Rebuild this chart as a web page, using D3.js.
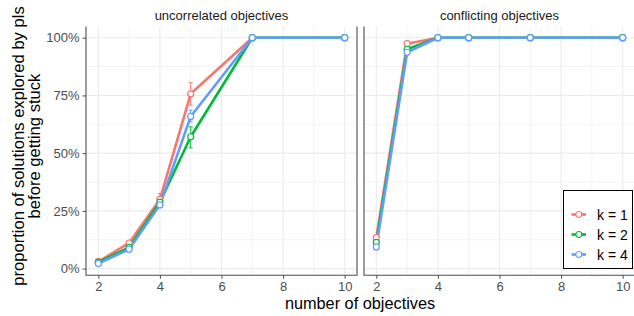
<!DOCTYPE html>
<html>
<head>
<meta charset="utf-8">
<script src="https://cdn.jsdelivr.net/npm/d3@7"></script>
<style>
  body { margin: 0; background: #fff; }
  svg { font-family: "Liberation Sans", Arial, sans-serif; display: block; }
</style>
</head>
<body>
<div id="chart"></div>
<script>
// data
var objectives = [2, 3, 4, 5, 7, 10]
var panels = ['uncorrelated objectives', 'conflicting objectives']
var kLabels = ['k = 1', 'k = 2', 'k = 4']
var kColors = ['#F8766D', '#00BA38', '#619CFF']

// uncorrelated: mean, lower, upper per k
var uncorrMean = [
    [0.030, 0.111, 0.300, 0.757, 1, 1],
    [0.028, 0.092, 0.288, 0.571, 1, 1],
    [0.022, 0.084, 0.276, 0.659, 1, 1]
]
var uncorrLow = [
    [0.026, 0.103, 0.282, 0.708, 1, 1],
    [0.025, 0.086, 0.276, 0.523, 1, 1],
    [0.019, 0.079, 0.266, 0.636, 1, 1]
]
var uncorrHigh = [
    [0.034, 0.119, 0.325, 0.805, 1, 1],
    [0.031, 0.098, 0.300, 0.614, 1, 1],
    [0.025, 0.089, 0.286, 0.686, 1, 1]
]
// conflicting
var conflMean = [
    [0.134, 0.974, 1, 1, 1, 1],
    [0.114, 0.950, 1, 1, 1, 1],
    [0.094, 0.937, 1, 1, 1, 1]
]

var xTicks = [2, 4, 6, 8, 10]
var xMinor = [3, 5, 7, 9]
var yTicks = [0, 0.25, 0.5, 0.75, 1]
var yMinor = [0.125, 0.375, 0.625, 0.875]

var width = 634, height = 316
var panelLeft = [86, 364]
var panelW = 271
var panelTop = 26.4, panelBottom = 275.3
var axisCol = '#4d4d4d', gridCol = '#ebebeb', tickTextCol = '#4d4d4d'

var svg = d3.select('#chart').append('svg')
    .attr('width', width)
    .attr('height', height)

var y = d3.scaleLinear().domain([-0.029, 1.049]).range([panelBottom, panelTop])
var fmt = d3.format('.0%')

function seriesFor(p, k) {
    var mean = p == 0 ? uncorrMean[k] : conflMean[k]
    return objectives.map(function (x, i) {
        return {
            x: x, y: mean[i],
            lo: p == 0 ? uncorrLow[k][i] : mean[i],
            hi: p == 0 ? uncorrHigh[k][i] : mean[i]
        }
    })
}

panels.forEach(function (title, p) {
    var x = d3.scaleLinear().domain([1.6, 10.4]).range([panelLeft[p], panelLeft[p] + panelW])
    var g = svg.append('g')

    // grid
    g.selectAll('.vminor').data(xMinor).enter().append('line')
        .attr('x1', d => x(d)).attr('x2', d => x(d)).attr('y1', panelTop).attr('y2', panelBottom)
        .attr('stroke', gridCol).attr('stroke-width', 0.6)
    g.selectAll('.hminor').data(yMinor).enter().append('line')
        .attr('x1', x.range()[0]).attr('x2', x.range()[1]).attr('y1', d => y(d)).attr('y2', d => y(d))
        .attr('stroke', gridCol).attr('stroke-width', 0.6)
    g.selectAll('.vmajor').data(xTicks).enter().append('line')
        .attr('x1', d => x(d)).attr('x2', d => x(d)).attr('y1', panelTop).attr('y2', panelBottom)
        .attr('stroke', gridCol).attr('stroke-width', 1.1)
    g.selectAll('.hmajor').data(yTicks).enter().append('line')
        .attr('x1', x.range()[0]).attr('x2', x.range()[1]).attr('y1', d => y(d)).attr('y2', d => y(d))
        .attr('stroke', gridCol).attr('stroke-width', 1.1)

    // strip title
    g.append('text')
        .attr('x', (x.range()[0] + x.range()[1]) / 2)
        .attr('y', 19.5)
        .attr('text-anchor', 'middle')
        .attr('font-size', 13)
        .attr('fill', '#1a1a1a')
        .text(title)

    // x axis
    var xAxis = d3.axisBottom(x).tickValues(xTicks).tickSize(3.5).tickPadding(2.5)
    var ax = g.append('g').attr('transform', 'translate(0,' + panelBottom + ')').call(xAxis)
    ax.select('.domain').remove()
    ax.selectAll('line').attr('stroke', axisCol)
    ax.selectAll('text').attr('font-size', 13).attr('fill', tickTextCol)
        .attr('font-family', '"Liberation Sans", Arial, sans-serif')

    if (p == 0) {
        var yAxis = d3.axisLeft(y).tickValues(yTicks).tickFormat(fmt).tickSize(3.5).tickPadding(3)
        var ay = g.append('g').attr('transform', 'translate(' + x.range()[0] + ',0)').call(yAxis)
        ay.select('.domain').remove()
        ay.selectAll('line').attr('stroke', axisCol)
        ay.selectAll('text').attr('font-size', 13).attr('fill', tickTextCol)
            .attr('font-family', '"Liberation Sans", Arial, sans-serif')
    }

    // panel lines: left, right, bottom
    g.append('path')
        .attr('d', 'M' + x.range()[0] + ',' + panelTop + 'V' + panelBottom + 'H' + x.range()[1] + 'V' + panelTop)
        .attr('fill', 'none').attr('stroke', axisCol).attr('stroke-width', 1.1)

    var line = d3.line().x(d => x(d.x)).y(d => y(d.y))

    // lines
    kLabels.forEach(function (lab, k) {
        g.append('path').datum(seriesFor(p, k))
            .attr('d', line)
            .attr('fill', 'none')
            .attr('stroke', kColors[k])
            .attr('stroke-width', 2.6)
            .attr('stroke-linejoin', 'round')
    })
    // error bars
    kLabels.forEach(function (lab, k) {
        var eb = g.selectAll('.eb' + k).data(seriesFor(p, k).filter(d => d.hi - d.lo > 0.001))
            .enter().append('g')
            .attr('stroke', kColors[k]).attr('stroke-width', 1)
        eb.append('line').attr('x1', d => x(d.x)).attr('x2', d => x(d.x))
            .attr('y1', d => y(d.lo)).attr('y2', d => y(d.hi))
        eb.append('line').attr('x1', d => x(d.x) - 2).attr('x2', d => x(d.x) + 2)
            .attr('y1', d => y(d.lo)).attr('y2', d => y(d.lo))
        eb.append('line').attr('x1', d => x(d.x) - 2).attr('x2', d => x(d.x) + 2)
            .attr('y1', d => y(d.hi)).attr('y2', d => y(d.hi))
    })
    // points
    kLabels.forEach(function (lab, k) {
        g.selectAll('.pt' + k).data(seriesFor(p, k)).enter().append('circle')
            .attr('cx', d => x(d.x)).attr('cy', d => y(d.y))
            .attr('r', 3)
            .attr('fill', '#fff')
            .attr('stroke', kColors[k])
            .attr('stroke-width', 1.2)
    })
})

// axis titles
svg.append('text')
    .attr('x', 360).attr('y', 308.5)
    .attr('text-anchor', 'middle')
    .attr('font-size', 16.3)
    .attr('fill', '#000')
    .text('number of objectives')

var yt = svg.append('text')
    .attr('transform', 'translate(26,146) rotate(-90)')
    .attr('text-anchor', 'middle')
    .attr('font-size', 16.6)
    .attr('fill', '#000')
yt.append('tspan').attr('x', 0).attr('dy', -2).text('proportion of solutions explored by pls')
yt.append('tspan').attr('x', 0).attr('dy', 16).text('before getting stuck')

// legend
var legend = svg.append('g').attr('transform', 'translate(563.5,190.5)')
legend.append('rect')
    .attr('width', 69).attr('height', 78)
    .attr('fill', '#fff').attr('stroke', '#000').attr('stroke-width', 1)
var items = legend.selectAll('.item').data(kLabels).enter().append('g')
    .attr('transform', (d, i) => 'translate(0,' + (24 + i * 20) + ')')
items.append('line')
    .attr('x1', 8).attr('x2', 22.5)
    .attr('stroke', (d, i) => kColors[i]).attr('stroke-width', 2.6)
items.append('circle')
    .attr('cx', 15.3).attr('r', 3)
    .attr('fill', '#fff').attr('stroke', (d, i) => kColors[i]).attr('stroke-width', 1.2)
items.append('text')
    .attr('x', 33.5).attr('y', 5)
    .attr('font-size', 14)
    .attr('fill', '#000')
    .text(d => d)
</script>
</body>
</html>
